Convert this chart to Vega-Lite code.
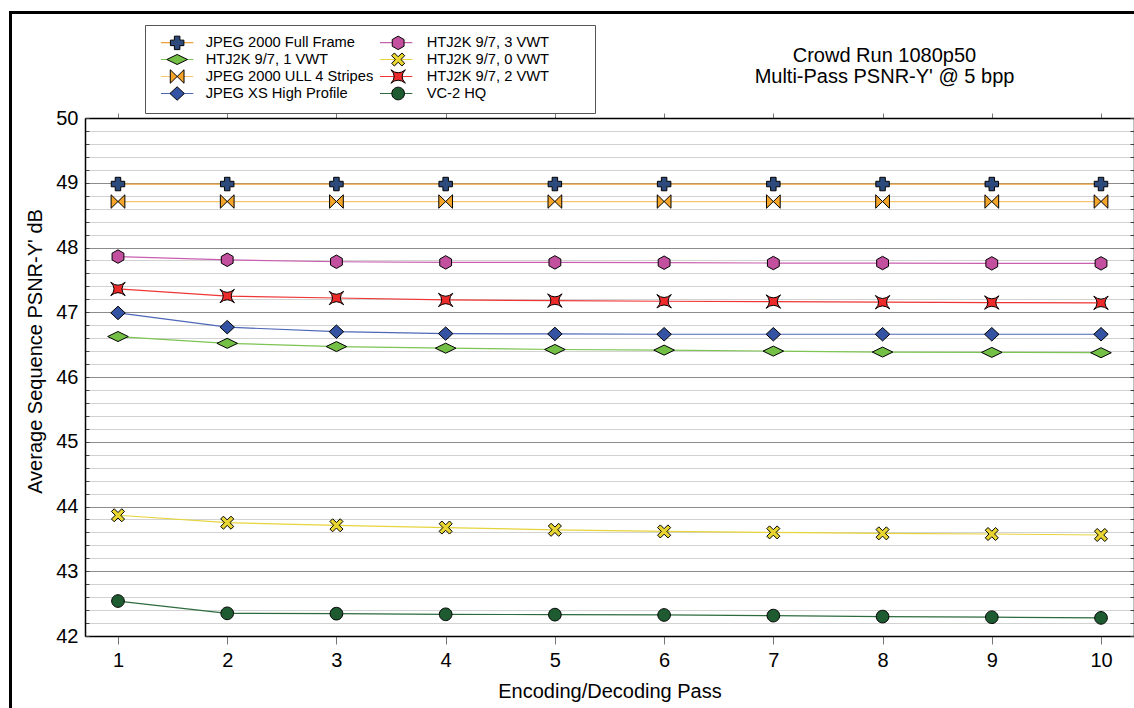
{
  "$schema": "https://vega.github.io/schema/vega-lite/v6.json",
  "width": 1049,
  "height": 518,
  "autosize": "none",
  "padding": {"left": 85, "top": 118, "right": 0, "bottom": 72},
  "background": "white",
  "config": {
    "font": "Liberation Sans",
    "view": {"stroke": null},
    "axis": {"labelFont": "Liberation Sans", "titleFont": "Liberation Sans", "titleFontWeight": "normal"},
    "legend": {"labelFont": "Liberation Sans"}
  },
  "title": {
    "text": ["Crowd Run 1080p50", "Multi-Pass PSNR-Y' @ 5 bpp"],
    "anchor": "middle",
    "frame": "group",
    "dx": 275,
    "fontSize": 20,
    "fontWeight": "normal",
    "font": "Liberation Sans",
    "color": "black",
    "lineHeight": 21,
    "baseline": "bottom",
    "offset": -95
  },
  "data": {
    "values": [
      {"series": "JPEG 2000 Full Frame", "pass": 1, "psnr": 48.98},
      {"series": "JPEG 2000 Full Frame", "pass": 2, "psnr": 48.98},
      {"series": "JPEG 2000 Full Frame", "pass": 3, "psnr": 48.98},
      {"series": "JPEG 2000 Full Frame", "pass": 4, "psnr": 48.98},
      {"series": "JPEG 2000 Full Frame", "pass": 5, "psnr": 48.98},
      {"series": "JPEG 2000 Full Frame", "pass": 6, "psnr": 48.98},
      {"series": "JPEG 2000 Full Frame", "pass": 7, "psnr": 48.98},
      {"series": "JPEG 2000 Full Frame", "pass": 8, "psnr": 48.98},
      {"series": "JPEG 2000 Full Frame", "pass": 9, "psnr": 48.98},
      {"series": "JPEG 2000 Full Frame", "pass": 10, "psnr": 48.98},
      {"series": "HTJ2K 9/7, 1 VWT", "pass": 1, "psnr": 46.625},
      {"series": "HTJ2K 9/7, 1 VWT", "pass": 2, "psnr": 46.52},
      {"series": "HTJ2K 9/7, 1 VWT", "pass": 3, "psnr": 46.47},
      {"series": "HTJ2K 9/7, 1 VWT", "pass": 4, "psnr": 46.445},
      {"series": "HTJ2K 9/7, 1 VWT", "pass": 5, "psnr": 46.425},
      {"series": "HTJ2K 9/7, 1 VWT", "pass": 6, "psnr": 46.415},
      {"series": "HTJ2K 9/7, 1 VWT", "pass": 7, "psnr": 46.4},
      {"series": "HTJ2K 9/7, 1 VWT", "pass": 8, "psnr": 46.385},
      {"series": "HTJ2K 9/7, 1 VWT", "pass": 9, "psnr": 46.38},
      {"series": "HTJ2K 9/7, 1 VWT", "pass": 10, "psnr": 46.375},
      {"series": "JPEG 2000 ULL 4 Stripes", "pass": 1, "psnr": 48.71},
      {"series": "JPEG 2000 ULL 4 Stripes", "pass": 2, "psnr": 48.71},
      {"series": "JPEG 2000 ULL 4 Stripes", "pass": 3, "psnr": 48.71},
      {"series": "JPEG 2000 ULL 4 Stripes", "pass": 4, "psnr": 48.71},
      {"series": "JPEG 2000 ULL 4 Stripes", "pass": 5, "psnr": 48.71},
      {"series": "JPEG 2000 ULL 4 Stripes", "pass": 6, "psnr": 48.71},
      {"series": "JPEG 2000 ULL 4 Stripes", "pass": 7, "psnr": 48.71},
      {"series": "JPEG 2000 ULL 4 Stripes", "pass": 8, "psnr": 48.71},
      {"series": "JPEG 2000 ULL 4 Stripes", "pass": 9, "psnr": 48.71},
      {"series": "JPEG 2000 ULL 4 Stripes", "pass": 10, "psnr": 48.71},
      {"series": "JPEG XS High Profile", "pass": 1, "psnr": 46.99},
      {"series": "JPEG XS High Profile", "pass": 2, "psnr": 46.77},
      {"series": "JPEG XS High Profile", "pass": 3, "psnr": 46.7},
      {"series": "JPEG XS High Profile", "pass": 4, "psnr": 46.67},
      {"series": "JPEG XS High Profile", "pass": 5, "psnr": 46.665},
      {"series": "JPEG XS High Profile", "pass": 6, "psnr": 46.66},
      {"series": "JPEG XS High Profile", "pass": 7, "psnr": 46.66},
      {"series": "JPEG XS High Profile", "pass": 8, "psnr": 46.66},
      {"series": "JPEG XS High Profile", "pass": 9, "psnr": 46.66},
      {"series": "JPEG XS High Profile", "pass": 10, "psnr": 46.66},
      {"series": "HTJ2K 9/7, 3 VWT", "pass": 1, "psnr": 47.86},
      {"series": "HTJ2K 9/7, 3 VWT", "pass": 2, "psnr": 47.81},
      {"series": "HTJ2K 9/7, 3 VWT", "pass": 3, "psnr": 47.78},
      {"series": "HTJ2K 9/7, 3 VWT", "pass": 4, "psnr": 47.77},
      {"series": "HTJ2K 9/7, 3 VWT", "pass": 5, "psnr": 47.77},
      {"series": "HTJ2K 9/7, 3 VWT", "pass": 6, "psnr": 47.765},
      {"series": "HTJ2K 9/7, 3 VWT", "pass": 7, "psnr": 47.76},
      {"series": "HTJ2K 9/7, 3 VWT", "pass": 8, "psnr": 47.76},
      {"series": "HTJ2K 9/7, 3 VWT", "pass": 9, "psnr": 47.755},
      {"series": "HTJ2K 9/7, 3 VWT", "pass": 10, "psnr": 47.755},
      {"series": "HTJ2K 9/7, 0 VWT", "pass": 1, "psnr": 43.865},
      {"series": "HTJ2K 9/7, 0 VWT", "pass": 2, "psnr": 43.75},
      {"series": "HTJ2K 9/7, 0 VWT", "pass": 3, "psnr": 43.71},
      {"series": "HTJ2K 9/7, 0 VWT", "pass": 4, "psnr": 43.675},
      {"series": "HTJ2K 9/7, 0 VWT", "pass": 5, "psnr": 43.64},
      {"series": "HTJ2K 9/7, 0 VWT", "pass": 6, "psnr": 43.615},
      {"series": "HTJ2K 9/7, 0 VWT", "pass": 7, "psnr": 43.6},
      {"series": "HTJ2K 9/7, 0 VWT", "pass": 8, "psnr": 43.585},
      {"series": "HTJ2K 9/7, 0 VWT", "pass": 9, "psnr": 43.575},
      {"series": "HTJ2K 9/7, 0 VWT", "pass": 10, "psnr": 43.56},
      {"series": "HTJ2K 9/7, 2 VWT", "pass": 1, "psnr": 47.36},
      {"series": "HTJ2K 9/7, 2 VWT", "pass": 2, "psnr": 47.25},
      {"series": "HTJ2K 9/7, 2 VWT", "pass": 3, "psnr": 47.22},
      {"series": "HTJ2K 9/7, 2 VWT", "pass": 4, "psnr": 47.19},
      {"series": "HTJ2K 9/7, 2 VWT", "pass": 5, "psnr": 47.18},
      {"series": "HTJ2K 9/7, 2 VWT", "pass": 6, "psnr": 47.17},
      {"series": "HTJ2K 9/7, 2 VWT", "pass": 7, "psnr": 47.165},
      {"series": "HTJ2K 9/7, 2 VWT", "pass": 8, "psnr": 47.155},
      {"series": "HTJ2K 9/7, 2 VWT", "pass": 9, "psnr": 47.15},
      {"series": "HTJ2K 9/7, 2 VWT", "pass": 10, "psnr": 47.145},
      {"series": "VC-2 HQ", "pass": 1, "psnr": 42.54},
      {"series": "VC-2 HQ", "pass": 2, "psnr": 42.35},
      {"series": "VC-2 HQ", "pass": 3, "psnr": 42.345},
      {"series": "VC-2 HQ", "pass": 4, "psnr": 42.335},
      {"series": "VC-2 HQ", "pass": 5, "psnr": 42.33},
      {"series": "VC-2 HQ", "pass": 6, "psnr": 42.325},
      {"series": "VC-2 HQ", "pass": 7, "psnr": 42.315},
      {"series": "VC-2 HQ", "pass": 8, "psnr": 42.3},
      {"series": "VC-2 HQ", "pass": 9, "psnr": 42.29},
      {"series": "VC-2 HQ", "pass": 10, "psnr": 42.28}
    ]
  },
  "layer": [
    {
      "mark": {"type": "line", "strokeWidth": 1.2},
      "encoding": {
        "x": {
          "field": "pass", "type": "quantitative",
          "scale": {"domain": [0.698, 10.302], "nice": false, "zero": false},
          "axis": {
            "orient": "bottom", "values": [1, 2, 3, 4, 5, 6, 7, 8, 9, 10], "format": "d",
            "grid": false, "tickSize": 8, "tickColor": "#777", "domainColor": "black", "domainWidth": 1.5,
            "labelFontSize": 20, "labelColor": "black", "labelPadding": 6, "labelFlush": false,
            "title": "Encoding/Decoding Pass", "titleFontSize": 20, "titleColor": "black", "titlePadding": 11
          }
        },
        "y": {
          "field": "psnr", "type": "quantitative",
          "scale": {"domain": [42, 50], "nice": false, "zero": false},
          "axis": {
            "orient": "left",
            "values": [42,42.2,42.4,42.6,42.8,43,43.2,43.4,43.6,43.8,44,44.2,44.4,44.6,44.8,45,45.2,45.4,45.6,45.8,46,46.2,46.4,46.6,46.8,47,47.2,47.4,47.6,47.8,48,48.2,48.4,48.6,48.8,49,49.2,49.4,49.6,49.8,50],
            "grid": true,
            "gridColor": {"condition": {"test": "abs(datum.value - round(datum.value)) < 0.01", "value": "#8c8c8c"}, "value": "#d2d2d2"},
            "gridWidth": 1,
            "tickSize": -4, "tickColor": "#444", "domainColor": "black", "domainWidth": 1.5,
            "labelExpr": "abs(datum.value - round(datum.value)) < 0.01 ? format(datum.value, 'd') : ''",
            "labelFontSize": 20, "labelColor": "black", "labelPadding": 11, "labelOverlap": false, "labelFlush": false,
            "title": "Average Sequence PSNR-Y' dB", "titleFontSize": 20, "titleColor": "black",
            "titleX": -50, "titleY": 233, "titleBaseline": "middle"
          }
        },
        "stroke": {
          "field": "series", "type": "nominal",
          "scale": {
            "domain": ["JPEG 2000 Full Frame", "HTJ2K 9/7, 1 VWT", "JPEG 2000 ULL 4 Stripes", "JPEG XS High Profile", "HTJ2K 9/7, 3 VWT", "HTJ2K 9/7, 0 VWT", "HTJ2K 9/7, 2 VWT", "VC-2 HQ"],
            "range": ["#efa236", "#7dc452", "#f9c36e", "#4d67b6", "#c95fae", "#e6d43c", "#ef3535", "#2d6b3e"]
          },
          "legend": {
            "orient": "none", "legendX": 60, "legendY": -93, "columns": 2, "title": null,
            "symbolType": "M-3.15,-0.98M27.1,0.98M-2.35,0H2.35",
            "symbolSize": 189, "symbolStrokeWidth": 1.2, "symbolOpacity": 1,
            "symbolOffset": 14.65, "labelOffset": 0, "labelFontSize": 14.7, "labelLimit": 400,
            "labelOpacity": 0,
            "labelExpr": "''",
            "padding": 10, "rowPadding": -4.8, "columnPadding": 6,
            "strokeColor": "#555",
            "encode": {"labels": {"update": {"lineHeight": {"value": 10}}}}
          }
        }
      }
    },
    {
      "mark": {"type": "point", "filled": true, "stroke": "black", "strokeWidth": 1, "opacity": 1, "size": 189},
      "encoding": {
        "x": {
          "field": "pass", "type": "quantitative",
          "scale": {"domain": [0.698, 10.302], "nice": false, "zero": false},
          "axis": {
            "orient": "top", "values": [1, 2, 3, 4, 5, 6, 7, 8, 9, 10],
            "grid": false, "labels": false, "tickSize": 5, "tickColor": "#777",
            "domainColor": "black", "domainWidth": 1.5, "title": null
          }
        },
        "y": {
          "field": "psnr", "type": "quantitative",
          "scale": {"domain": [42, 50], "nice": false, "zero": false},
          "axis": {
            "orient": "right",
            "values": [42,42.2,42.4,42.6,42.8,43,43.2,43.4,43.6,43.8,44,44.2,44.4,44.6,44.8,45,45.2,45.4,45.6,45.8,46,46.2,46.4,46.6,46.8,47,47.2,47.4,47.6,47.8,48,48.2,48.4,48.6,48.8,49,49.2,49.4,49.6,49.8,50],
            "grid": false, "labels": false, "tickSize": -4, "tickColor": "#444",
            "domainColor": "black", "domainWidth": 1.5, "title": null
          }
        },
        "fill": {
          "field": "series", "type": "nominal", "sort": null,
          "scale": {"range": ["#2c4a7c", "#74bf45", "#f4a52a", "#3553a3", "#c2509e", "#e9d531", "#ee2b2b", "#1e5b31"]},
          "legend": {
            "orient": "none", "legendX": 60, "legendY": -93, "columns": 2, "title": null,
            "symbolSize": 189, "symbolStrokeWidth": 1, "symbolStrokeColor": "black", "symbolOpacity": 1,
            "symbolOffset": 14.65, "labelOffset": 21, "labelFontSize": 14.7, "labelLimit": 400, "labelColor": "black",
            "padding": 10, "rowPadding": -4.8, "columnPadding": 0,
            "encode": {"labels": {"update": {"lineHeight": {"value": 10}}}}
          }
        },
        "shape": {
          "field": "series", "type": "nominal", "sort": null,
          "scale": {"range": [
            "M-3.15,-0.98M0,0.98M-0.4,-0.98H0.4V-0.4H0.98V0.4H0.4V0.98H-0.4V0.4H-0.98V-0.4H-0.4Z",
            "M-3.15,-0.98M0,0.98M-1.5,0L0,-0.73L1.5,0L0,0.73Z",
            "M-3.15,-0.98M0,0.98M-1,-0.98L0,0L-1,0.98ZM1,-0.98L0,0L1,0.98Z",
            "M-3.15,-0.98M0,0.98M-1.05,0L0,-0.98L1.05,0L0,0.98Z",
            "M-3.15,-0.98M0,0.98M0,-0.98L0.86,-0.49L0.86,0.49L0,0.98L-0.86,0.49L-0.86,-0.49Z",
            "M-3.15,-0.98M0,0.98M-0.95,-0.55L-0.55,-0.95L0,-0.4L0.55,-0.95L0.95,-0.55L0.4,0L0.95,0.55L0.55,0.95L0,0.4L-0.55,0.95L-0.95,0.55L-0.4,0Z",
            "M-3.15,-0.98M0,0.98M-1.05,-0.98Q0,-0.1,1.05,-0.98Q0.1,0,1.05,0.98Q0,0.1,-1.05,0.98Q-0.1,0,-1.05,-0.98Z",
            "M-3.15,-0.98M0,0.98M0.92,0C0.92,0.508,0.508,0.92,0,0.92C-0.508,0.92,-0.92,0.508,-0.92,0C-0.92,-0.508,-0.508,-0.92,0,-0.92C0.508,-0.92,0.92,-0.508,0.92,0Z"
          ]},
          "legend": {
            "orient": "none", "legendX": 60, "legendY": -93, "columns": 2, "title": null,
            "symbolSize": 189, "symbolStrokeWidth": 1, "symbolStrokeColor": "black", "symbolOpacity": 1,
            "symbolOffset": 14.65, "labelOffset": 21, "labelFontSize": 14.7, "labelLimit": 400, "labelColor": "black",
            "padding": 10, "rowPadding": -4.8, "columnPadding": 0,
            "encode": {"labels": {"update": {"lineHeight": {"value": 10}}}}
          }
        }
      }
    },
    {
      "mark": {"type": "rect", "filled": false, "stroke": "black", "strokeWidth": 1.8},
      "encoding": {
        "x": {"datum": 0.016, "type": "quantitative", "axis": null},
        "x2": {"datum": 11},
        "y": {"datum": 51.63, "type": "quantitative", "axis": null},
        "y2": {"datum": 40}
      }
    }
  ],
  "resolve": {"axis": {"x": "independent", "y": "independent"}}
}
